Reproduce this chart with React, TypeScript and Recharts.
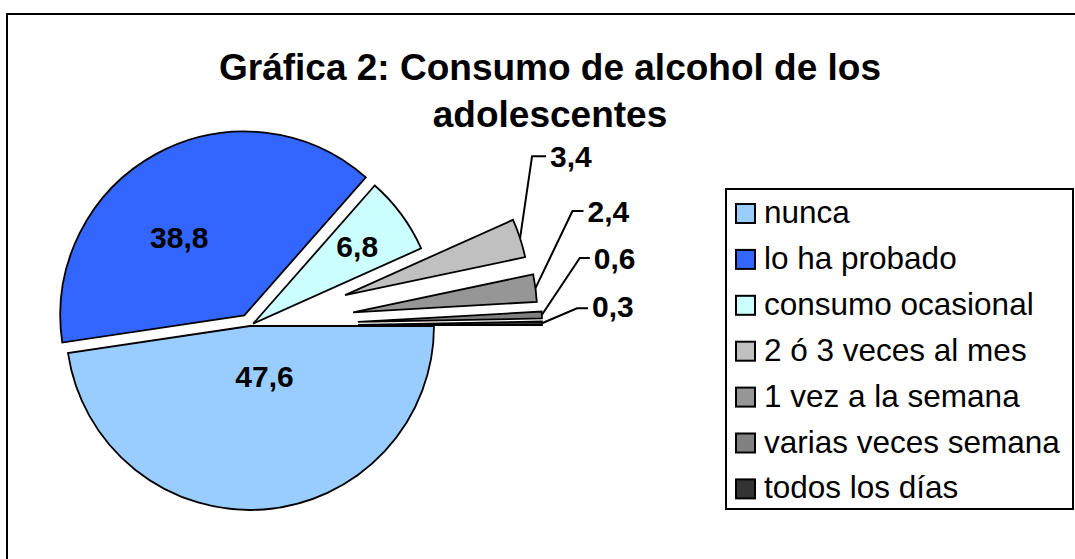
import React from "react";
import { PieChart, Pie, Cell } from "recharts";

const categories = [
  "nunca",
  "lo ha probado",
  "consumo ocasional",
  "2 ó 3 veces al mes",
  "1 vez a la semana",
  "varias veces semana",
  "todos los días",
];
const values = [47.6, 38.8, 6.8, 3.4, 2.4, 0.6, 0.3];
const valueLabels = ["47,6", "38,8", "6,8", "3,4", "2,4", "0,6", "0,3"];
const colors = ["#99CCFF", "#3366FF", "#CCFFFF", "#C0C0C0", "#969696", "#808080", "#333333"];

const data = categories.map((name, i) => ({ name, value: values[i] }));

// layout / style
const FONT = "'Liberation Sans', Arial, sans-serif";
const CX = 250;
const CY = 326;
const R = 184;
const explode = [0, 12, 4, 100, 104, 108, 108];
// inner labels: offset of the text baseline centre from the slice apex
const innerLabel: Record<number, [number, number]> = {
  0: [14.5, 61],
  1: [-65, -67.5],
  2: [104, -66.5],
};
// outer labels: elbow offset from the arc point, horizontal run, baseline shift
const leader: Record<number, [number, number, number, number]> = {
  3: [12, -82, 14, 11],
  4: [37, -77, 11, 11],
  5: [38, -57, 10, 11],
  6: [35, -15, 11, 9],
};

const RAD = Math.PI / 180;
const total = values.reduce((a, b) => a + b, 0);
const mids = values.map((v, i) => {
  const before = values.slice(0, i).reduce((a, b) => a + b, 0);
  return -((before + v / 2) / total) * 360;
});
const centers = mids.map((m, i) => ({
  x: CX + explode[i] * Math.cos(m * RAD),
  y: CY - explode[i] * Math.sin(m * RAD),
}));

function renderLabel(p: any, target: number) {
  if (p.index !== target) return null;
  const c = centers[target];
  const m = mids[target];
  const text = valueLabels[target];
  if (innerLabel[target]) {
    const [dx, dy] = innerLabel[target];
    return (
      <text x={c.x + dx} y={c.y + dy} textAnchor="middle" fontFamily={FONT} fontSize={30} fontWeight="bold" fill="#000">
        {text}
      </text>
    );
  }
  const [ex, ey, run, base] = leader[target];
  const sx = c.x + R * Math.cos(m * RAD);
  const sy = c.y - R * Math.sin(m * RAD);
  const exx = sx + ex;
  const eyy = sy + ey;
  return (
    <g>
      <polyline points={`${sx},${sy} ${exx},${eyy} ${exx + run},${eyy}`} fill="none" stroke="#000" strokeWidth={2} />
      <text x={exx + run + 4} y={eyy + base} fontFamily={FONT} fontSize={30} fontWeight="bold" fill="#000">
        {text}
      </text>
    </g>
  );
}

export default function App() {
  return (
    <div style={{ position: "relative", width: 1075, height: 559, background: "#fff", overflow: "hidden" }}>
      <style>{"body{margin:0}"}</style>
      <PieChart
        width={1075}
        height={559}
        margin={{ top: 0, right: 0, bottom: 0, left: 0 }}
        style={{ position: "absolute", left: 0, top: 0 }}
      >
        {categories.map((cat, target) => (
          <Pie
            key={cat}
            data={data}
            dataKey="value"
            nameKey="name"
            cx={centers[target].x}
            cy={centers[target].y}
            outerRadius={R}
            innerRadius={0}
            startAngle={0}
            endAngle={-360}
            paddingAngle={0}
            isAnimationActive={false}
            labelLine={false}
            label={(p: any) => renderLabel(p, target)}
            legendType="none"
          >
            {data.map((d, i) => (
              <Cell
                key={d.name}
                fill={i === target ? colors[i] : "none"}
                stroke={i === target ? "#000" : "none"}
                strokeWidth={1.8}
              />
            ))}
          </Pie>
        ))}
      </PieChart>
      <svg width={1075} height={559} style={{ position: "absolute", left: 0, top: 0, pointerEvents: "none" }}>
        <rect x={7} y={14} width={1200} height={700} fill="none" stroke="#000" strokeWidth={2} />
        <text x={550} y={80} textAnchor="middle" fontFamily={FONT} fontSize={37} fontWeight="bold">
          Gráfica 2: Consumo de alcohol de los
        </text>
        <text x={550} y={127} textAnchor="middle" fontFamily={FONT} fontSize={37} fontWeight="bold">
          adolescentes
        </text>
        <rect x={726} y={189} width={347} height={320} fill="#fff" stroke="#000" strokeWidth={2} />
        {categories.map((cat, i) => (
          <g key={cat}>
            <rect x={736} y={204 + i * 45.9} width={19} height={19} fill={colors[i]} stroke="#000" strokeWidth={2} />
            <text x={764} y={223 + i * 45.9} fontFamily={FONT} fontSize={31.5} fill="#000">
              {cat}
            </text>
          </g>
        ))}
      </svg>
    </div>
  );
}
